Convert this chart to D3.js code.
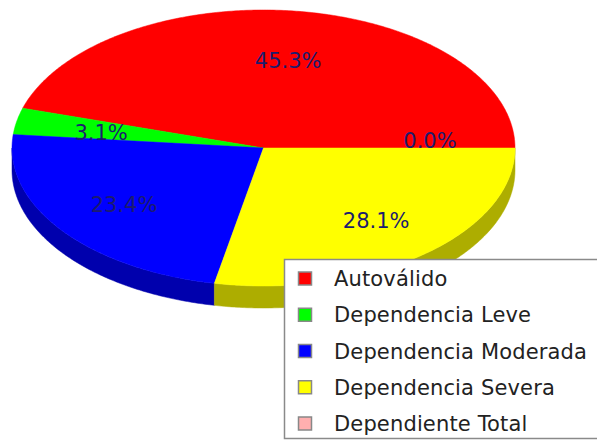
<!DOCTYPE html>
<html><head><meta charset="utf-8">
<script src="https://cdn.jsdelivr.net/npm/d3@7"></script>
<style>body{margin:0;background:#fff}svg{display:block}</style>
</head><body>
<script>
const categories = ["Autoválido","Dependencia Leve","Dependencia Moderada","Dependencia Severa","Dependiente Total"];
const values = [45.3, 3.1, 23.4, 28.1, 0.0];
const colors = ["#ff0000","#00ff00","#0000ff","#ffff00","#ffafaf"];
const labels = ["45.3%","3.1%","23.4%","28.1%","0.0%"];

const W = 597, H = 442;
const svg = d3.select("body").append("svg").attr("width", W).attr("height", H);

const cx = 263.5, cy = 148, rx = 251.5, ry = 138, depth = 22;
const pie = d3.pie().sort(null).value(d => d)(values);
const pt = (t, dy=0) => [cx + rx*Math.cos(t), cy - ry*Math.sin(t) + dy];
const sample = (a0, a1) => { const n = Math.max(2, Math.ceil(Math.abs(a1-a0)/0.01)); return d3.range(n+1).map(i => a0 + (a1-a0)*i/n); };
const line = d3.line();
const darker = c => { const k = d3.rgb(c); return d3.rgb(k.r*0.68, k.g*0.68, k.b*0.68).formatHex(); };

// side walls (front half: angles between PI and 2PI)
const gSide = svg.append("g");
pie.forEach((p, i) => {
  const a0 = Math.max(p.startAngle, Math.PI), a1 = Math.min(p.endAngle, 2*Math.PI);
  if (a1 <= a0) return;
  const top = sample(a0, a1).map(t => pt(t));
  const bot = sample(a1, a0).map(t => pt(t, depth));
  gSide.append("path").attr("d", line(top.concat(bot)) + "Z")
    .attr("fill", darker(colors[i])).attr("stroke", darker(colors[i])).attr("stroke-width", 0.5);
});

// top faces
const gTop = svg.append("g");
pie.forEach((p, i) => {
  if (p.endAngle - p.startAngle <= 0) return;
  const pts = [[cx, cy]].concat(sample(p.startAngle, p.endAngle).map(t => pt(t)));
  gTop.append("path").attr("d", line(pts) + "Z")
    .attr("fill", colors[i]).attr("stroke", colors[i]).attr("stroke-width", 0.5);
});

// labels
const lcx = 264, la = 166, lcy = 150, lb = 91;
pie.forEach((p, i) => {
  const t = (p.startAngle + p.endAngle)/2;
  const s = Math.sin(t);
  const a = la + 14*Math.max(0, -s);
  const shift = values[i] === 0 ? -10 : 0;
  svg.append("text").attr("x", lcx + a*Math.cos(t)).attr("y", lcy - lb*s + shift)
    .attr("text-anchor", "middle").attr("dy", "0.36em")
    .attr("font-family", "DejaVu Sans").attr("font-size", 21).attr("fill", "#1c1c6e")
    .text(labels[i]);
});

// legend
const lg = svg.append("g");
lg.append("rect").attr("x", 284.5).attr("y", 259.5).attr("width", 400).attr("height", 179)
  .attr("fill", "#fff").attr("stroke", "#8a8a8a").attr("stroke-width", 1.5);
const rowY = d3.scalePoint().domain(categories).range([278.5, 423.5]);
categories.forEach((c, i) => {
  const y = rowY(c);
  lg.append("rect").attr("x", 298.5).attr("y", y - 6.5).attr("width", 13).attr("height", 13)
    .attr("fill", colors[i]).attr("stroke", "#888").attr("stroke-width", 1.5);
  lg.append("text").attr("x", 334).attr("y", y).attr("dy", "0.36em")
    .attr("font-family", "DejaVu Sans").attr("font-size", 21).attr("fill", "#222")
    .attr("letter-spacing", 0.15)
    .text(c);
});
</script>
</body></html>
